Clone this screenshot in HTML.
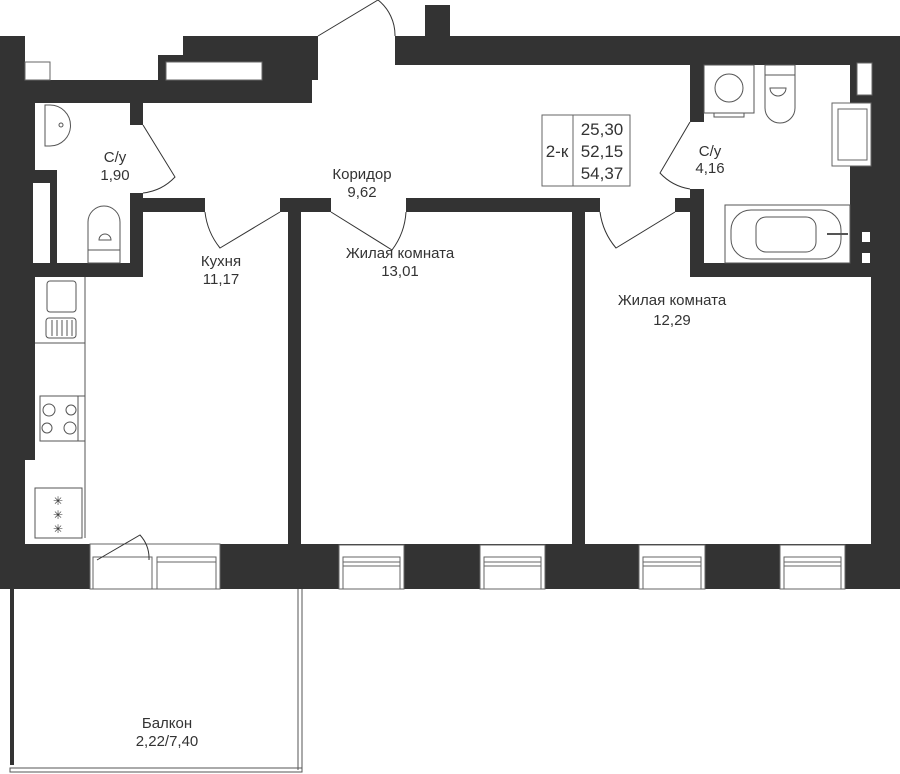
<!DOCTYPE html>
<html><head><meta charset="utf-8"><style>
html,body{margin:0;padding:0;background:#fff}
svg{display:block}
text{font-family:"Liberation Sans",sans-serif;fill:#333;font-size:15px;text-anchor:middle}
</style></head><body>
<svg width="900" height="774" viewBox="0 0 900 774" xmlns="http://www.w3.org/2000/svg">
<g fill="#333">
<rect x="0" y="36" width="25" height="509"/>
<rect x="0" y="80" width="312" height="23"/>
<rect x="0" y="100" width="35" height="360"/>
<rect x="183" y="36" width="135" height="26"/>
<rect x="158" y="55" width="160" height="25"/>
<rect x="0" y="170" width="57" height="13"/>
<rect x="50" y="170" width="7" height="93"/>
<rect x="130" y="103" width="13" height="22"/>
<rect x="130" y="193" width="13" height="84"/>
<rect x="35" y="263" width="108" height="14"/>
<rect x="395" y="36" width="505" height="29"/>
<rect x="425" y="5" width="25" height="31"/>
<rect x="850" y="36" width="50" height="229"/>
<rect x="871" y="36" width="29" height="509"/>
<rect x="690" y="65" width="14" height="57"/>
<rect x="690" y="189" width="14" height="88"/>
<rect x="675" y="198" width="15" height="14"/>
<rect x="690" y="263" width="182" height="14"/>
<rect x="130" y="198" width="75" height="14"/>
<rect x="280" y="198" width="51" height="14"/>
<rect x="406" y="198" width="194" height="14"/>
<rect x="288" y="198" width="13" height="347"/>
<rect x="572" y="198" width="13" height="347"/>
<rect x="0" y="544" width="900" height="45"/>
<rect x="10" y="589" width="4" height="176"/>
</g>
<g fill="#fff" stroke="#666" stroke-width="1">
<rect x="25" y="62" width="25" height="18"/>
<rect x="166" y="62" width="96" height="18"/>
<rect x="33" y="183" width="17" height="80" stroke="none"/>
<rect x="857" y="63" width="15" height="32"/>
<rect x="832" y="103" width="39" height="63"/>
<rect x="838" y="109" width="29" height="51"/>
<rect x="862" y="232" width="8" height="10" stroke="none"/>
<rect x="862" y="253" width="8" height="10" stroke="none"/>
<rect x="90" y="544" width="130" height="45"/>
<rect x="93" y="557" width="59" height="32"/>
<rect x="157" y="557" width="59" height="32"/>
<line x1="157" y1="562" x2="216" y2="562"/>
<rect x="339" y="545" width="65" height="44"/>
<rect x="343" y="557" width="57" height="32"/>
<line x1="343" y1="562" x2="400" y2="562"/><line x1="343" y1="566" x2="400" y2="566"/>
<rect x="480" y="545" width="65" height="44"/>
<rect x="484" y="557" width="57" height="32"/>
<line x1="484" y1="562" x2="541" y2="562"/><line x1="484" y1="566" x2="541" y2="566"/>
<rect x="639" y="545" width="66" height="44"/>
<rect x="643" y="557" width="58" height="32"/>
<line x1="643" y1="562" x2="701" y2="562"/><line x1="643" y1="566" x2="701" y2="566"/>
<rect x="780" y="545" width="65" height="44"/>
<rect x="784" y="557" width="57" height="32"/>
<line x1="784" y1="562" x2="841" y2="562"/><line x1="784" y1="566" x2="841" y2="566"/>
</g>
<g fill="none" stroke="#555" stroke-width="1">
<rect x="10" y="768" width="292" height="4"/>
<line x1="298" y1="589" x2="298" y2="770"/><line x1="302" y1="589" x2="302" y2="770"/>
</g>
<g fill="none" stroke="#333" stroke-width="1">
<path d="M318 36 L378 0 A45 45 0 0 1 395 36"/>
<path d="M143 125 L175 177 A52 52 0 0 1 143 193"/>
<path d="M205 212 A70 70 0 0 0 220 248 L280 212"/>
<path d="M331 212 L392 250 A70 70 0 0 0 406 212"/>
<path d="M600 212 A70 70 0 0 0 616 248 L675 212"/>
<path d="M690 122 L660 173 A52 52 0 0 0 690 189"/>
<path d="M97 560 L140 535 A35 35 0 0 1 149 560"/>
</g>
<g fill="none" stroke="#555" stroke-width="1">
<path d="M45 105 L50 105 A20 20 0 0 1 50 146 L45 146 Z"/>
<circle cx="61" cy="125" r="2"/>
<path d="M88 263 L88 222 A16 16 0 0 1 120 222 L120 263 Z"/>
<path d="M99 240 A6 6 0 0 1 111 240 Z"/>
<line x1="88" y1="250" x2="120" y2="250"/>
<rect x="704" y="65" width="50" height="48"/>
<circle cx="729" cy="88" r="14"/>
<rect x="714" y="113" width="30" height="4"/>
<rect x="765" y="65" width="30" height="10"/>
<path d="M765 75 L765 108 A15 15 0 0 0 795 108 L795 75"/>
<path d="M770 88 A8 8 0 0 0 786 88 Z"/>
<rect x="725" y="205" width="125" height="58"/>
<rect x="731" y="210" width="110" height="49" rx="20"/>
<rect x="756" y="217" width="60" height="35" rx="10"/>
<line x1="827" y1="234" x2="848" y2="234" stroke-width="2"/>
<line x1="85" y1="277" x2="85" y2="538"/>
<line x1="35" y1="343" x2="85" y2="343"/>
<rect x="47" y="281" width="29" height="31" rx="3"/>
<rect x="46" y="318" width="30" height="20" rx="3"/>
<line x1="52" y1="320" x2="52" y2="336"/><line x1="57" y1="320" x2="57" y2="336"/><line x1="62" y1="320" x2="62" y2="336"/><line x1="67" y1="320" x2="67" y2="336"/><line x1="72" y1="320" x2="72" y2="336"/>
<rect x="40" y="396" width="45" height="45"/>
<line x1="78" y1="396" x2="78" y2="441"/>
<circle cx="49" cy="410" r="6"/><circle cx="71" cy="410" r="5"/>
<circle cx="47" cy="428" r="5"/><circle cx="70" cy="428" r="6"/>
<rect x="35" y="488" width="47" height="50"/>
<line x1="82" y1="488" x2="82" y2="538"/>
</g>
<text x="58" y="505" style="font-size:12px">✳</text><text x="58" y="519" style="font-size:12px">✳</text><text x="58" y="533" style="font-size:12px">✳</text>
<g fill="none" stroke="#666"><rect x="542" y="115" width="88" height="71"/><line x1="573" y1="115" x2="573" y2="186"/></g>
<text x="557" y="157" style="font-size:17px">2-к</text>
<text x="602" y="135" style="font-size:17px">25,30</text>
<text x="602" y="157" style="font-size:17px">52,15</text>
<text x="602" y="179" style="font-size:17px">54,37</text>
<text x="115" y="162">С/у</text><text x="115" y="180">1,90</text>
<text x="362" y="179">Коридор</text><text x="362" y="197">9,62</text>
<text x="221" y="266">Кухня</text><text x="221" y="284">11,17</text>
<text x="400" y="258">Жилая комната</text><text x="400" y="276">13,01</text>
<text x="710" y="156">С/у</text><text x="710" y="173">4,16</text>
<text x="672" y="305">Жилая комната</text><text x="672" y="325">12,29</text>
<text x="167" y="728">Балкон</text><text x="167" y="746">2,22/7,40</text>
</svg>
</body></html>
